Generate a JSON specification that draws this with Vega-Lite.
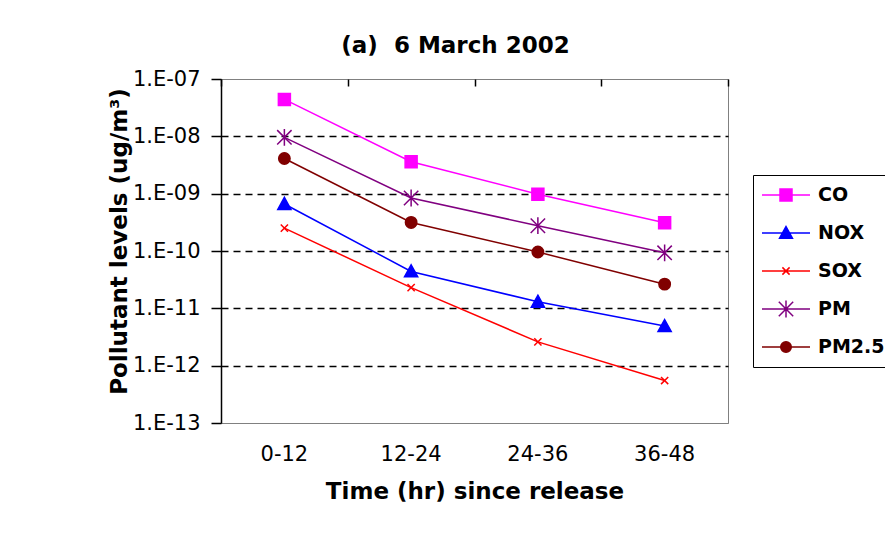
{
  "$schema": "https://vega.github.io/schema/vega-lite/v6.json",
  "width": 507,
  "height": 344,
  "autosize": {"type": "none"},
  "padding": {"left": 221, "top": 79, "right": 157, "bottom": 123},
  "background": "white",
  "title": {"text": "(a)\u00a0 6 March 2002", "font": "DejaVu Sans", "fontWeight": "bold", "fontSize": 23, "color": "black", "anchor": "middle", "dx": -19, "offset": 10},
  "config": {"view": {"stroke": "#808080", "strokeWidth": 1}},
  "data": {"values": [
    {"t": "0-12", "series": "CO", "value": 4.4e-8},
    {"t": "12-24", "series": "CO", "value": 3.6e-9},
    {"t": "24-36", "series": "CO", "value": 9.8e-10},
    {"t": "36-48", "series": "CO", "value": 3.1e-10},
    {"t": "0-12", "series": "NOX", "value": 6.6e-10},
    {"t": "12-24", "series": "NOX", "value": 4.4e-11},
    {"t": "24-36", "series": "NOX", "value": 1.3e-11},
    {"t": "36-48", "series": "NOX", "value": 4.9e-12},
    {"t": "0-12", "series": "SOX", "value": 2.5e-10},
    {"t": "12-24", "series": "SOX", "value": 2.3e-11},
    {"t": "24-36", "series": "SOX", "value": 2.6e-12},
    {"t": "36-48", "series": "SOX", "value": 5.5e-13},
    {"t": "0-12", "series": "PM", "value": 9.6e-9},
    {"t": "12-24", "series": "PM", "value": 8.4e-10},
    {"t": "24-36", "series": "PM", "value": 2.76e-10},
    {"t": "36-48", "series": "PM", "value": 9.3e-11},
    {"t": "0-12", "series": "PM2.5", "value": 4.1e-9},
    {"t": "12-24", "series": "PM2.5", "value": 3.15e-10},
    {"t": "24-36", "series": "PM2.5", "value": 9.6e-11},
    {"t": "36-48", "series": "PM2.5", "value": 2.64e-11}
  ]},
  "encoding": {
    "y": {
      "field": "value", "type": "quantitative",
      "scale": {"type": "log", "domain": [1e-13, 1e-7], "nice": false},
      "axis": {
        "values": [1e-13, 1e-12, 1e-11, 1e-10, 1e-9, 1e-8, 1e-7],
        "labelExpr": "'1.E-' + (round(log(datum.value)/LN10) > -10 ? '0' : '') + (-round(log(datum.value)/LN10))",
        "labelFont": "DejaVu Sans", "labelFontSize": 21, "labelColor": "black",
        "tickSize": 10, "tickColor": "black", "tickWidth": 1.5, "labelPadding": 11,
        "domainColor": "black", "domainWidth": 1.5,
        "grid": true,
        "gridColor": {"condition": {"test": "datum.value > 2e-13 && datum.value < 5e-8", "value": "black"}, "value": "transparent"},
        "gridDash": [7, 5], "gridWidth": 1.5,
        "title": "Pollutant levels (ug/m³)",
        "titleFont": "DejaVu Sans", "titleFontSize": 23, "titleFontWeight": "bold", "titleColor": "black",
        "titleX": -102, "titleY": 162, "titleAngle": -90, "titleAlign": "center", "titleBaseline": "middle"
      }
    }
  },
  "layer": [
    {
      "mark": {"type": "line", "strokeWidth": 1.5},
      "encoding": {
        "x": {"field": "t", "type": "nominal", "sort": ["0-12", "12-24", "24-36", "36-48"],
          "scale": {"type": "band", "paddingInner": 0, "paddingOuter": 0},
          "axis": {"orient": "top", "labels": false, "domain": false, "title": null, "grid": false, "tickBand": "extent", "tickSize": -7, "tickColor": "black", "tickWidth": 1.5}},
        "stroke": {"field": "series", "type": "nominal",
          "scale": {"domain": ["CO", "NOX", "SOX", "PM", "PM2.5"], "range": ["#FF00FF", "#0000FF", "#FF0000", "#800080", "#800000"]},
          "legend": null}
      }
    },
    {
      "mark": {"type": "point", "strokeWidth": 1.5, "size": 144, "opacity": 1},
      "encoding": {
        "x": {"field": "t", "type": "nominal", "sort": ["0-12", "12-24", "24-36", "36-48"],
          "axis": {"orient": "bottom", "title": "Time (hr) since release", "titleFont": "DejaVu Sans", "titleFontSize": 23, "titleFontWeight": "bold", "titleColor": "black",
            "labelFont": "DejaVu Sans", "labelFontSize": 21, "labelColor": "black", "labelAngle": 0, "ticks": false, "tickSize": 0, "labelPadding": 20,
            "domainColor": "#808080", "domainWidth": 1, "titlePadding": 16, "grid": false}},
        "stroke": {"field": "series", "type": "nominal",
          "scale": {"domain": ["CO", "NOX", "SOX", "PM", "PM2.5"], "range": ["#FF00FF", "#0000FF", "#FF0000", "#800080", "#800000"]},
          "legend": null},
        "fill": {"field": "series", "type": "nominal",
          "scale": {"domain": ["CO", "NOX", "SOX", "PM", "PM2.5"], "range": ["#FF00FF", "#0000FF", "#FF0000", "#800080", "#800000"]},
          "legend": null},
        "shape": {"field": "series", "type": "nominal",
          "scale": {"domain": ["CO", "NOX", "SOX", "PM", "PM2.5"], "range": [
            "M-1,-1H1V1H-1Z",
            "M0,-1.1L1.1,0.9H-1.1Z",
            "M-0.6,-0.6L0.6,0.6M-0.6,0.6L0.6,-0.6",
            "M-1.2,-1.2L1.2,1.2M-1.2,1.2L1.2,-1.2M0,-1.4V1.4",
            "M0.95,0A0.95,0.95,0,1,1,-0.95,0A0.95,0.95,0,1,1,0.95,0Z"
          ]},
          "legend": null}
      }
    },
    {
      "mark": {"type": "point", "strokeWidth": 1.5, "size": 144, "opacity": 0},
      "encoding": {
        "x": {"field": "t", "type": "nominal", "sort": ["0-12", "12-24", "24-36", "36-48"], "axis": null},
        "stroke": {"field": "series", "type": "nominal",
          "scale": {"domain": ["CO", "NOX", "SOX", "PM", "PM2.5"], "range": ["#FF00FF", "#0000FF", "#FF0000", "#800080", "#800000"]},
          "legend": {"orient": "none", "legendX": 532, "legendY": 96, "title": null, "symbolSize": 2304, "symbolStrokeWidth": 1.5, "symbolOpacity": 1,
            "labelFont": "DejaVu Sans", "labelFontSize": 19, "labelFontWeight": "bold", "labelColor": "black", "strokeColor": "black", "padding": 8,
            "clipHeight": 24, "rowPadding": 14, "labelOffset": 7}},
        "fill": {"field": "series", "type": "nominal",
          "scale": {"domain": ["CO", "NOX", "SOX", "PM", "PM2.5"], "range": ["#FF00FF", "#0000FF", "#FF0000", "#800080", "#800000"]},
          "legend": {"orient": "none", "legendX": 532, "legendY": 96, "title": null, "symbolSize": 2304, "symbolStrokeWidth": 1.5, "symbolOpacity": 1,
            "labelFont": "DejaVu Sans", "labelFontSize": 19, "labelFontWeight": "bold", "labelColor": "black", "strokeColor": "black", "padding": 8,
            "clipHeight": 24, "rowPadding": 14, "labelOffset": 7}},
        "shape": {"field": "series", "type": "nominal",
          "scale": {"domain": ["CO", "NOX", "SOX", "PM", "PM2.5"], "range": [
            "M-1,0H1M-0.25,-0.25H0.25V0.25H-0.25Z",
            "M-1,0H1M0,-0.27L0.27,0.22H-0.27Z",
            "M-1,0H1M-0.15,-0.15L0.15,0.15M-0.15,0.15L0.15,-0.15",
            "M-1,0H1M-0.3,-0.3L0.3,0.3M-0.3,0.3L0.3,-0.3M0,-0.35V0.35",
            "M-1,0H1M0.22,0A0.22,0.22,0,1,1,-0.22,0A0.22,0.22,0,1,1,0.22,0Z"
          ]},
          "legend": {"orient": "none", "legendX": 532, "legendY": 96, "title": null, "symbolSize": 2304, "symbolStrokeWidth": 1.5, "symbolOpacity": 1,
            "labelFont": "DejaVu Sans", "labelFontSize": 19, "labelFontWeight": "bold", "labelColor": "black", "strokeColor": "black", "padding": 8,
            "clipHeight": 24, "rowPadding": 14, "labelOffset": 7}}
      }
    }
  ],
  "resolve": {
    "scale": {"shape": "independent", "fill": "independent", "stroke": "independent"},
    "axis": {"x": "independent"}
  }
}
